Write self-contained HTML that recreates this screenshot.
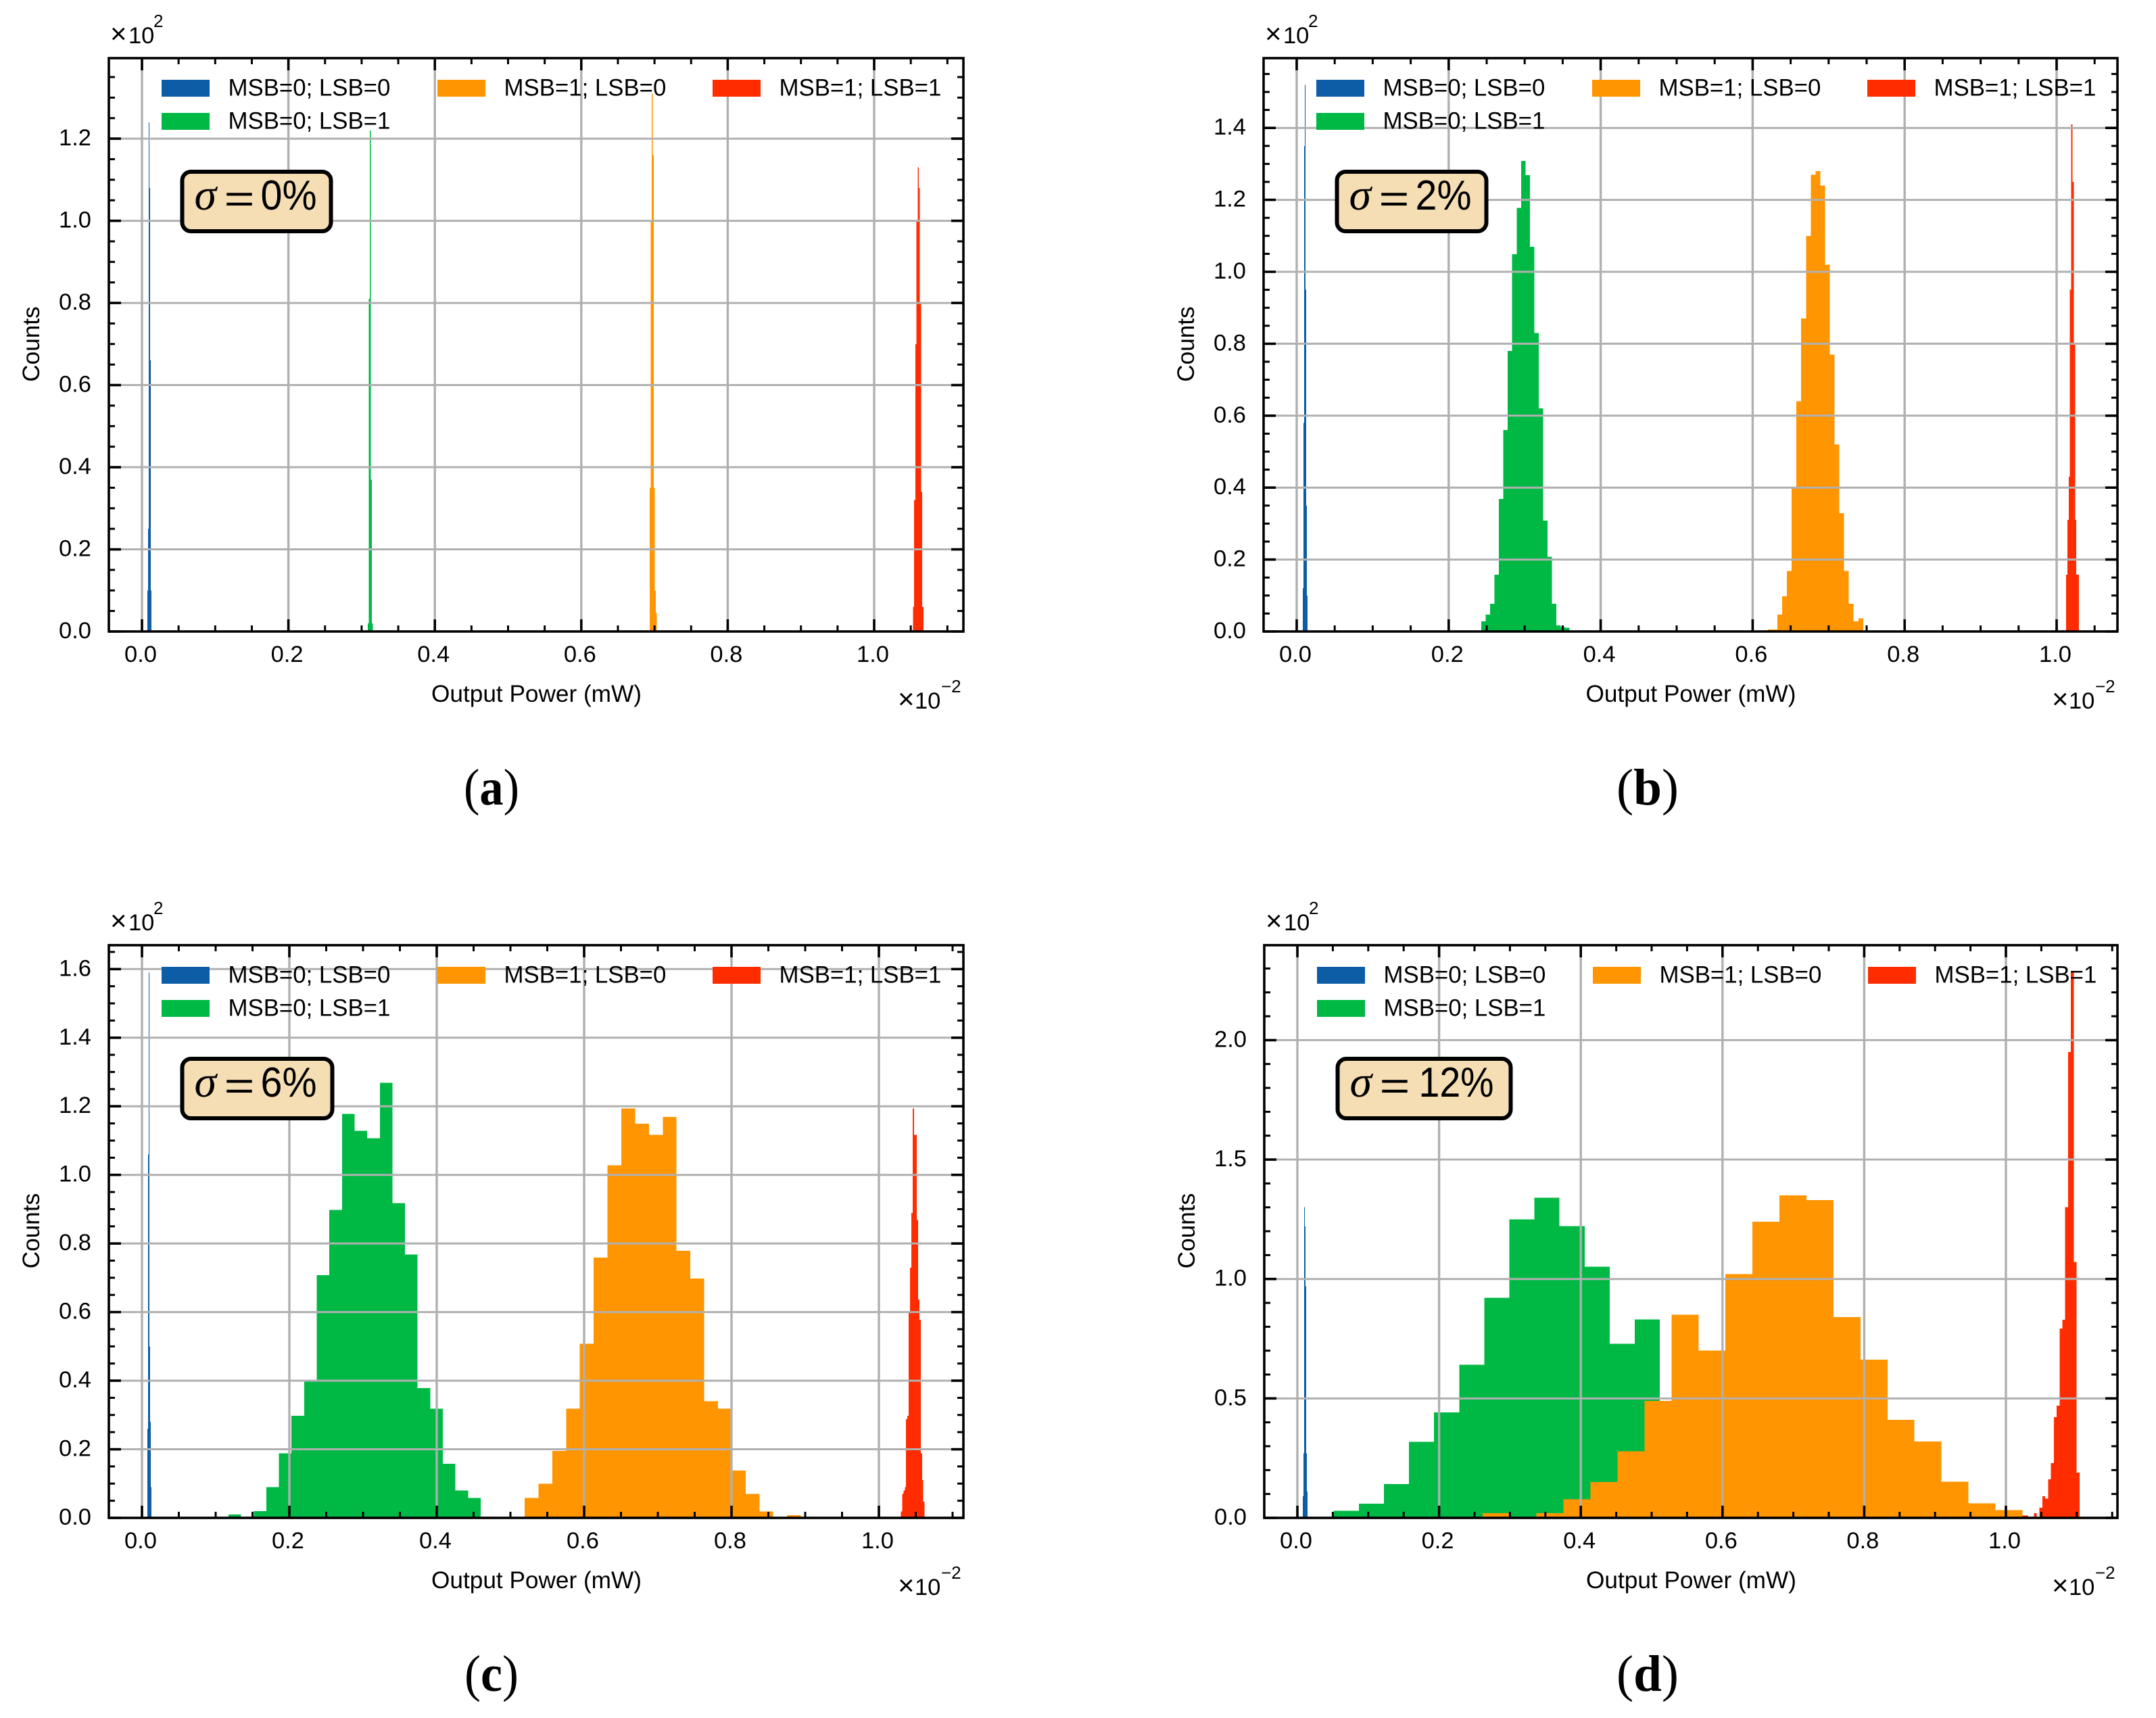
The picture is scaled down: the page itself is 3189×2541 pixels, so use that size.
<!DOCTYPE html>
<html lang="en">
<head>
<meta charset="utf-8">
<title>Output power histograms</title>
<style>
html,body{margin:0;padding:0;background:#fff;}
svg{display:block;}
text{font-family:"Liberation Sans",sans-serif;fill:#000;}
.cap{font-family:"Liberation Serif",serif;font-size:76px;}
</style>
</head>
<body>
<svg id="figure" xmlns="http://www.w3.org/2000/svg" width="3189" height="2541" viewBox="0 0 3189 2541">
  <rect x="0" y="0" width="3189" height="2541" fill="#ffffff"/>
  <text class="cap" x="727" y="1190" text-anchor="middle" textLength="82" lengthAdjust="spacingAndGlyphs">(<tspan font-weight="bold">a</tspan>)</text>
  <text class="cap" x="2437" y="1190" text-anchor="middle" textLength="92" lengthAdjust="spacingAndGlyphs">(<tspan font-weight="bold">b</tspan>)</text>
  <text class="cap" x="727" y="2501" text-anchor="middle" textLength="80" lengthAdjust="spacingAndGlyphs">(<tspan font-weight="bold">c</tspan>)</text>
  <text class="cap" x="2437" y="2501" text-anchor="middle" textLength="92" lengthAdjust="spacingAndGlyphs">(<tspan font-weight="bold">d</tspan>)</text>
</svg>
<script>
// Legend and series
const seriesLabels = ['MSB=0; LSB=0', 'MSB=0; LSB=1', 'MSB=1; LSB=0', 'MSB=1; LSB=1'];
const seriesColors = ['#0c5da5', '#00b945', '#ff9500', '#ff2c00'];
const xTickLabels = ['0.0', '0.2', '0.4', '0.6', '0.8', '1.0'];

// Each histogram: counts (x10^2) and bins = [first bin edge (x10^-2 mW), bin width]
// Panel a, sigma = 0%
const aBlueBins = [0.0074, 0.00092];
const aBlueCounts = [0.10, 0.25, 1.24, 1.08, 0.66, 0.10];
const aGreenBins = [0.3084, 0.00138];
const aGreenCounts = [0.02, 0.81, 1.22, 0.37, 0.02];
const aOrangeBins = [0.6934, 0.00139];
const aOrangeCounts = [0.35, 1.0, 1.31, 1.16, 0.35, 0.10, 0.045];
const aRedBins = [1.0531, 0.00157];
const aRedCounts = [0.06, 0.32, 0.70, 1.0, 1.13, 1.08, 0.80, 0.34, 0.06];
const aYTicks = [0, 0.2, 0.4, 0.6, 0.8, 1.0, 1.2];

// Panel b, sigma = 2%
const bBlueBins = [0.008, 0.00089];
const bBlueCounts = [0.12, 0.58, 1.35, 1.52, 0.95, 0.35, 0.10];
const bGreenBins = [0.2429, 0.00581];
const bGreenCounts = [0.028, 0.047, 0.077, 0.158, 0.368, 0.56, 0.78, 1.049, 1.178, 1.308, 1.269, 1.07, 0.83, 0.62, 0.308, 0.208, 0.077, 0.017, 0.012, 0.01];
const bOrangeBins = [0.62, 0.00627];
const bOrangeCounts = [0.006, 0.006, 0.047, 0.098, 0.168, 0.398, 0.64, 0.87, 1.10, 1.27, 1.28, 1.24, 1.02, 0.77, 0.52, 0.329, 0.168, 0.077, 0.028, 0.037];
const bRedBins = [1.0125, 0.00169];
const bRedCounts = [0.158, 0.31, 0.43, 0.95, 1.41, 1.25, 0.80, 0.31, 0.158, 0.158];
const bYTicks = [0, 0.2, 0.4, 0.6, 0.8, 1.0, 1.2, 1.4];

// Panel c, sigma = 6%
const cBlueBins = [0.00734, 0.00092];
const cBlueCounts = [0.26, 1.06, 1.59, 0.5, 0.28, 0.09];
const cGreenBins = [0.1174, 0.01711];
const cGreenCounts = [0.01, 0, 0.02, 0.0895, 0.188, 0.298, 0.40, 0.708, 0.898, 1.178, 1.129, 1.107, 1.268, 0.918, 0.768, 0.378, 0.318, 0.158, 0.08, 0.058];
const cOrangeBins = [0.5193, 0.01874];
const cOrangeCounts = [0.058, 0.10, 0.195, 0.318, 0.508, 0.759, 1.028, 1.194, 1.149, 1.117, 1.169, 0.779, 0.698, 0.34, 0.318, 0.138, 0.07, 0.019, 0, 0.0075];
const cRedBins = [1.0297, 0.0018];
const cRedCounts = [0.019, 0.07, 0.08, 0.09, 0.288, 0.298, 0.597, 0.729, 0.889, 1.194, 1.117, 1.117, 0.868, 0.637, 0.578, 0.188, 0.11, 0.047];
const cYTicks = [0, 0.2, 0.4, 0.6, 0.8, 1.0, 1.2, 1.4, 1.6];

// Panel d, sigma = 12%
const dBlueBins = [0.00744, 0.00095];
const dBlueCounts = [0.09, 0.27, 1.30, 1.22, 0.97, 0.27, 0.11];
const dGreenBins = [0.0513, 0.0354];
const dGreenCounts = [0.03, 0.059, 0.141, 0.319, 0.441, 0.641, 0.921, 1.25, 1.34, 1.222, 1.052, 0.729, 0.831, 0.44, 0.33, 0.2, 0.11, 0.07, 0.03, 0.01];
const dOrangeBins = [0.2613, 0.0381];
const dOrangeCounts = [0.02, 0, 0.02, 0.0785, 0.15, 0.279, 0.489, 0.851, 0.70, 1.021, 1.24, 1.35, 1.331, 0.84, 0.662, 0.41, 0.32, 0.151, 0.061, 0.032];
const dRedBins = [1.0233, 0.004025];
const dRedCounts = [0.01, 0.01, 0, 0, 0.02, 0, 0.042, 0.091, 0.08, 0.162, 0.229, 0.422, 0.47, 0.792, 0.83, 1.30, 1.95, 2.29, 1.071, 0.19];
const dYTicks = [0, 0.5, 1.0, 1.5, 2.0];

// Axis limits in data units
const aXLim = [-0.04525, 1.12188];
const aYLim = [0, 1.3961];
const bXLim = [-0.04359, 1.08007];
const bYLim = [0, 1.594];
const cXLim = [-0.04495, 1.11468];
const cYLim = [0, 1.6696];
const dXLim = [-0.04676, 1.15744];
const dYLim = [0, 2.3974];

const panels = [
  {id:'a', box:[161,1425,86,934], xLim:aXLim, yLim:aYLim, yTicks:aYTicks, yMinor:0.05, sigma:'0%', boxW:226,
   bins:[aBlueBins,aGreenBins,aOrangeBins,aRedBins], counts:[aBlueCounts,aGreenCounts,aOrangeCounts,aRedCounts]},
  {id:'b', box:[1869,3132,86,934], xLim:bXLim, yLim:bYLim, yTicks:bYTicks, yMinor:0.05, sigma:'2%', boxW:227,
   bins:[bBlueBins,bGreenBins,bOrangeBins,bRedBins], counts:[bBlueCounts,bGreenCounts,bOrangeCounts,bRedCounts]},
  {id:'c', box:[161,1425,1398,2245], xLim:cXLim, yLim:cYLim, yTicks:cYTicks, yMinor:0.05, sigma:'6%', boxW:228,
   bins:[cBlueBins,cGreenBins,cOrangeBins,cRedBins], counts:[cBlueCounts,cGreenCounts,cOrangeCounts,cRedCounts]},
  {id:'d', box:[1870,3132,1398,2245], xLim:dXLim, yLim:dYLim, yTicks:dYTicks, yMinor:0.1, sigma:'12%', boxW:262,
   bins:[dBlueBins,dGreenBins,dOrangeBins,dRedBins], counts:[dBlueCounts,dGreenCounts,dOrangeCounts,dRedCounts]}
];

const NS = 'http://www.w3.org/2000/svg';
const root = document.getElementById('figure');
function mk(parent, tag, attrs, txt) {
  const n = document.createElementNS(NS, tag);
  for (const k in attrs) n.setAttribute(k, attrs[k]);
  if (txt !== undefined) n.textContent = txt;
  parent.appendChild(n);
  return n;
}
const GRID = '#b0b0b0';
const FS = 34.5;

panels.forEach(function (p) {
  const L = p.box[0], R = p.box[1], T = p.box[2], B = p.box[3];
  const xScale = function (v) { return L + (v - p.xLim[0]) / (p.xLim[1] - p.xLim[0]) * (R - L); };
  const yScale = function (v) { return B - (v - p.yLim[0]) / (p.yLim[1] - p.yLim[0]) * (B - T); };

  const g = mk(root, 'g', {});
  
  

  // bars
  p.counts.forEach(function (counts, s) {
    const sg = mk(g, 'g', {fill: seriesColors[s]});
    
    
    counts.forEach(function (c, i) {
      const x0 = xScale(p.bins[s][0] + i * p.bins[s][1]);
      const x1 = xScale(p.bins[s][0] + (i + 1) * p.bins[s][1]);
      const bar = mk(sg, 'rect', {x: x0, y: yScale(c), width: x1 - x0, height: B - yScale(c), 'shape-rendering': 'crispEdges'});
      
      
    });
  });

  // grid
  const xMajors = xTickLabels.map(Number);
  xMajors.forEach(function (v) {
    const gl = mk(g, 'line', {x1: xScale(v), x2: xScale(v), y1: T, y2: B, stroke: GRID, 'stroke-width': 3.4});
    
    
  });
  p.yTicks.forEach(function (v) {
    const gl = mk(g, 'line', {x1: L, x2: R, y1: yScale(v), y2: yScale(v), stroke: GRID, 'stroke-width': 3});
    
    
  });

  // ticks
  const tickG = mk(g, 'g', {stroke: '#000'});
  
  
  const MAJ = 18, MIN = 9;
  for (let k = -1; k * 0.05 < p.xLim[1]; k++) {
    const v = k * 0.05;
    if (v < p.xLim[0]) continue;
    const major = k % 4 === 0;
    const len = major ? MAJ : MIN, w = major ? 3.6 : 3;
    mk(tickG, 'line', {x1: xScale(v), x2: xScale(v), y1: B, y2: B - len, 'stroke-width': w});
    mk(tickG, 'line', {x1: xScale(v), x2: xScale(v), y1: T, y2: T + len, 'stroke-width': w});
  }
  const nMinor = Math.round((p.yTicks[1] - p.yTicks[0]) / p.yMinor);
  for (let k = 0; k * p.yMinor < p.yLim[1]; k++) {
    const v = k * p.yMinor;
    const major = k % nMinor === 0;
    const len = major ? MAJ : MIN, w = major ? 3.6 : 3;
    mk(tickG, 'line', {x1: L, x2: L + len, y1: yScale(v), y2: yScale(v), 'stroke-width': w});
    mk(tickG, 'line', {x1: R, x2: R - len, y1: yScale(v), y2: yScale(v), 'stroke-width': w});
  }

  // spines
  const frame = mk(g, 'rect', {x: L, y: T, width: R - L, height: B - T, fill: 'none', stroke: '#000', 'stroke-width': 3.6});
  
  

  // tick labels
  xTickLabels.forEach(function (lab) {
    const t = mk(g, 'text', {x: xScale(Number(lab)) - 2, y: B + 45, 'text-anchor': 'middle', 'font-size': FS}, lab);
    
    
  });
  p.yTicks.forEach(function (v) {
    const t = mk(g, 'text', {x: L - 26, y: yScale(v) + 10, 'text-anchor': 'end', 'font-size': FS}, v.toFixed(1));
    
    
  });

  // axis titles
  const xt = mk(g, 'text', {x: (L + R) / 2 + 0.5, y: B + 104, 'text-anchor': 'middle', 'font-size': 35.2}, 'Output Power (mW)');
  
  
  const yc = (T + B) / 2 - 1, yx = L - 103;
  const yt = mk(g, 'text', {x: yx, y: yc, 'text-anchor': 'middle', 'font-size': 35.2, transform: 'rotate(-90 ' + yx + ' ' + yc + ')'}, 'Counts');
  
  

  // offset texts
  const xo = mk(g, 'text', {x: R - 97, y: B + 114, 'font-size': FS});
  
  
  mk(xo, 'tspan', {'font-size': 42}, '×');
  mk(xo, 'tspan', {x: R - 72}, '10');
  mk(xo, 'tspan', {x: R - 33, dy: -24, 'font-size': 26}, '−2');
  const yo = mk(g, 'text', {x: L + 2, y: T - 22, 'font-size': FS});
  
  
  mk(yo, 'tspan', {'font-size': 42}, '×');
  mk(yo, 'tspan', {x: L + 29}, '10');
  mk(yo, 'tspan', {x: L + 66, dy: -24, 'font-size': 26}, '2');

  // legend
  const legend = mk(g, 'g', {});
  
  
  const legendCols = [78, 78, 486, 893];
  const legendRows = [32, 81, 32, 32];
  seriesLabels.forEach(function (lab, s) {
    const sw = mk(legend, 'rect', {x: L + legendCols[s], y: T + legendRows[s], width: 71, height: 25, fill: seriesColors[s]});
    
    
    const t = mk(legend, 'text', {x: L + legendCols[s] + 98.5, y: T + legendRows[s] + 23.5, 'font-size': 34.8}, lab);
    
    
  });

  // sigma annotation
  const bx = L + 108.5, by = T + 168;
  const ann = mk(g, 'g', {});
  
  
  mk(ann, 'rect', {x: bx, y: by, width: p.boxW - 6, height: 88, rx: 13, ry: 13, fill: '#f5deb3', stroke: '#000', 'stroke-width': 6});
  mk(ann, 'text', {x: bx + 18, y: by + 56, 'font-size': 66, 'font-style': 'italic', style: 'font-family:"Liberation Serif",serif'}, 'σ');
  mk(ann, 'text', {x: bx + 62, y: by + 60, 'font-size': 58, textLength: 45, lengthAdjust: 'spacingAndGlyphs'}, '=');
  const two = p.sigma.length > 2;
  mk(ann, 'text', {x: bx + (two ? 120 : 116), y: by + 56, 'font-size': 62, textLength: two ? 111 : 83, lengthAdjust: 'spacingAndGlyphs'}, p.sigma);
});
</script>
</body>
</html>
